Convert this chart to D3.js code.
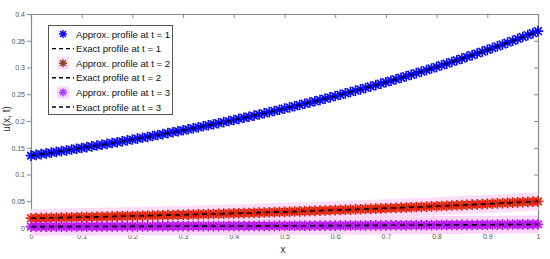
<!DOCTYPE html>
<html>
<head>
<meta charset="utf-8">
<script src="https://cdn.jsdelivr.net/npm/d3@7"></script>
<style>
  body { margin: 0; background: #fff; }
  svg { display: block; font-family: "Liberation Sans", Arial, sans-serif; }
</style>
</head>
<body>
<svg></svg>
<script>
// u(x,t), x = 0 .. 1 every 0.01
var u1 = [0.1353,0.1367,0.1381,0.1395,0.1409,0.1423,0.1437,0.1451,0.1466,0.1481,
	0.1496,0.1511,0.1526,0.1541,0.1557,0.1572,0.1588,0.1604,0.1620,0.1637,
	0.1653,0.1670,0.1686,0.1703,0.1720,0.1738,0.1755,0.1773,0.1791,0.1809,
	0.1827,0.1845,0.1864,0.1882,0.1901,0.1921,0.1940,0.1959,0.1979,0.1999,
	0.2019,0.2039,0.2060,0.2080,0.2101,0.2122,0.2144,0.2165,0.2187,0.2209,
	0.2231,0.2254,0.2276,0.2299,0.2322,0.2346,0.2369,0.2393,0.2417,0.2441,
	0.2466,0.2491,0.2516,0.2541,0.2567,0.2592,0.2618,0.2645,0.2671,0.2698,
	0.2725,0.2753,0.2780,0.2808,0.2837,0.2865,0.2894,0.2923,0.2952,0.2982,
	0.3012,0.3042,0.3073,0.3104,0.3135,0.3166,0.3198,0.3230,0.3263,0.3296,
	0.3329,0.3362,0.3396,0.3430,0.3465,0.3499,0.3535,0.3570,0.3606,0.3642,0.3679];
var u2 = [0.01832,0.01850,0.01869,0.01887,0.01906,0.01925,0.01945,0.01964,0.01984,0.02004,
	0.02024,0.02045,0.02065,0.02086,0.02107,0.02128,0.02149,0.02171,0.02193,0.02215,
	0.02237,0.02260,0.02282,0.02305,0.02328,0.02352,0.02375,0.02399,0.02423,0.02448,
	0.02472,0.02497,0.02522,0.02548,0.02573,0.02599,0.02625,0.02652,0.02678,0.02705,
	0.02732,0.02760,0.02788,0.02816,0.02844,0.02872,0.02901,0.02930,0.02960,0.02990,
	0.03020,0.03050,0.03081,0.03112,0.03143,0.03175,0.03206,0.03239,0.03271,0.03304,
	0.03337,0.03371,0.03405,0.03439,0.03474,0.03508,0.03544,0.03579,0.03615,0.03652,
	0.03688,0.03725,0.03763,0.03801,0.03839,0.03877,0.03916,0.03956,0.03995,0.04036,
	0.04076,0.04117,0.04159,0.04200,0.04243,0.04285,0.04328,0.04372,0.04416,0.04460,
	0.04505,0.04550,0.04596,0.04642,0.04689,0.04736,0.04783,0.04831,0.04880,0.04929,0.04979];
var u3 = [0.00248,0.00250,0.00253,0.00255,0.00258,0.00261,0.00263,0.00266,0.00269,0.00271,
	0.00274,0.00277,0.00279,0.00282,0.00285,0.00288,0.00291,0.00294,0.00297,0.00300,
	0.00303,0.00306,0.00309,0.00312,0.00315,0.00318,0.00321,0.00325,0.00328,0.00331,
	0.00335,0.00338,0.00341,0.00345,0.00348,0.00352,0.00355,0.00359,0.00362,0.00366,
	0.00370,0.00374,0.00377,0.00381,0.00385,0.00389,0.00393,0.00397,0.00401,0.00405,
	0.00409,0.00413,0.00417,0.00421,0.00425,0.00430,0.00434,0.00438,0.00443,0.00447,
	0.00452,0.00456,0.00461,0.00465,0.00470,0.00475,0.00480,0.00484,0.00489,0.00494,
	0.00499,0.00504,0.00509,0.00514,0.00520,0.00525,0.00530,0.00535,0.00541,0.00546,
	0.00552,0.00557,0.00563,0.00568,0.00574,0.00580,0.00586,0.00592,0.00598,0.00604,
	0.00610,0.00616,0.00622,0.00628,0.00635,0.00641,0.00647,0.00654,0.00660,0.00667,0.00674];

var xTicks = [0, 0.1, 0.2, 0.3, 0.4, 0.5, 0.6, 0.7, 0.8, 0.9, 1];
var yTicks = [0, 0.05, 0.1, 0.15, 0.2, 0.25, 0.3, 0.35, 0.4];
var legendLabels = ["Approx. profile at t = 1", "Exact profile at t = 1",
	"Approx. profile at t = 2", "Exact profile at t = 2",
	"Approx. profile at t = 3", "Exact profile at t = 3"];

var draw = function() {
	var W = 550, H = 259;
	var pLeft = 31, pRight = 538, pTop = 14, pBottom = 228;

	var svg = d3.select("svg").attr("width", W).attr("height", H);
	svg.append("rect").attr("width", W).attr("height", H).attr("fill", "#fff");

	var x = d3.scaleLinear().domain([0, 1]).range([pLeft, pRight]);
	var y = d3.scaleLinear().domain([0, 0.4]).range([pBottom, pTop]);

	var series = [
		{ vals: u1, color: "#0a0aff", legendColor: "#1010ff", halo: null },
		{ vals: u2, color: "#e0200a", legendColor: "#8b4a1c", halo: "#fcdcf6" },
		{ vals: u3, color: "#b612f0", legendColor: "#a83cff", halo: "#fbd6f8" }
	];
	series.forEach(function(s) {
		s.pts = s.vals.map(function(v, i) { return [i / (s.vals.length - 1), v]; });
	});

	// asterisk marker (MATLAB '*')
	function star(r) {
		var a = r * 0.72;
		return "M" + (-r) + ",0L" + r + ",0" +
			"M0," + (-r) + "L0," + r +
			"M" + (-a) + "," + (-a) + "L" + a + "," + a +
			"M" + (-a) + "," + a + "L" + a + "," + (-a);
	}

	var line = d3.line()
		.x(function(d) { return x(d[0]); })
		.y(function(d) { return y(d[1]); });

	// axes box
	var axisColor = "#8a8a8a";
	svg.append("g")
		.attr("transform", "translate(" + pLeft + ",0)")
		.call(d3.axisLeft(y).tickValues(yTicks).tickSize(4).tickPadding(2)
			.tickFormat(function(d) { return d === 0 ? "0" : String(+d.toFixed(2)); }));
	svg.append("g")
		.attr("transform", "translate(0," + pBottom + ")")
		.call(d3.axisBottom(x).tickValues(xTicks).tickSize(-4).tickPadding(6)
			.tickFormat(function(d) { return String(+d.toFixed(1)); }));
	svg.append("g")
		.attr("transform", "translate(0," + pTop + ")")
		.call(d3.axisTop(x).tickValues(xTicks).tickSize(-4).tickFormat(""));
	svg.append("g")
		.attr("transform", "translate(" + pRight + ",0)")
		.call(d3.axisRight(y).tickValues(yTicks).tickSize(-4).tickFormat(""));
	svg.selectAll(".domain").attr("stroke", axisColor).attr("stroke-width", 1.2);
	svg.selectAll(".tick line").attr("stroke", axisColor);
	svg.selectAll(".tick text").attr("fill", "#555").style("font-size", "7px")
		.style("font-family", "'Liberation Sans', Arial, sans-serif");

	// plot series
	var plot = svg.append("g");
	series.forEach(function(s) {
		if (s.halo) {
			plot.append("path").datum(s.pts).attr("d", line)
				.attr("fill", "none").attr("stroke", s.halo).attr("stroke-width", 18);
		}
	});
	series.forEach(function(s) {
		plot.append("g").selectAll("path")
			.data(s.pts).enter().append("path")
			.attr("transform", function(d) { return "translate(" + x(d[0]) + "," + y(d[1]) + ")"; })
			.attr("d", star(5.3))
			.attr("stroke", s.color).attr("stroke-width", 1.7).attr("fill", "none");
	});
	series.forEach(function(s) {
		plot.append("path").datum(s.pts).attr("d", line)
			.attr("fill", "none").attr("stroke", "#000")
			.attr("stroke-width", 1.6).attr("stroke-dasharray", "5,4");
	});

	// axis labels
	svg.append("text").attr("x", 283).attr("y", 253).attr("text-anchor", "middle")
		.attr("fill", "#333").style("font-size", "10px").text("x");
	svg.append("text").attr("transform", "translate(10,119) rotate(-90)")
		.attr("text-anchor", "middle").attr("fill", "#333").style("font-size", "10px").text("u(x, t)");

	// legend
	var lg = svg.append("g");
	lg.append("rect").attr("x", 48.5).attr("y", 25.5).attr("width", 124).attr("height", 89)
		.attr("fill", "#fff").attr("stroke", "#555").attr("stroke-width", 1);
	legendLabels.forEach(function(lab, i) {
		var cy = 34 + i * 14.6;
		var s = series[Math.floor(i / 2)];
		if (i % 2 === 0) {
			if (s.halo) {
				lg.append("rect").attr("x", 57).attr("y", cy - 6).attr("width", 12).attr("height", 12)
					.attr("fill", s.halo);
			}
			lg.append("path").attr("transform", "translate(63," + cy + ")").attr("d", star(4))
				.attr("stroke", s.legendColor).attr("stroke-width", 1.5).attr("fill", "none");
		} else {
			lg.append("line").attr("x1", 52).attr("x2", 74).attr("y1", cy).attr("y2", cy)
				.attr("stroke", "#000").attr("stroke-width", 1.4).attr("stroke-dasharray", "4,3");
		}
		lg.append("text").attr("x", 76).attr("y", cy + 3.5).attr("fill", "#111")
			.style("font-size", "9.6px").text(lab);
	});
};

draw();
</script>
</body>
</html>
